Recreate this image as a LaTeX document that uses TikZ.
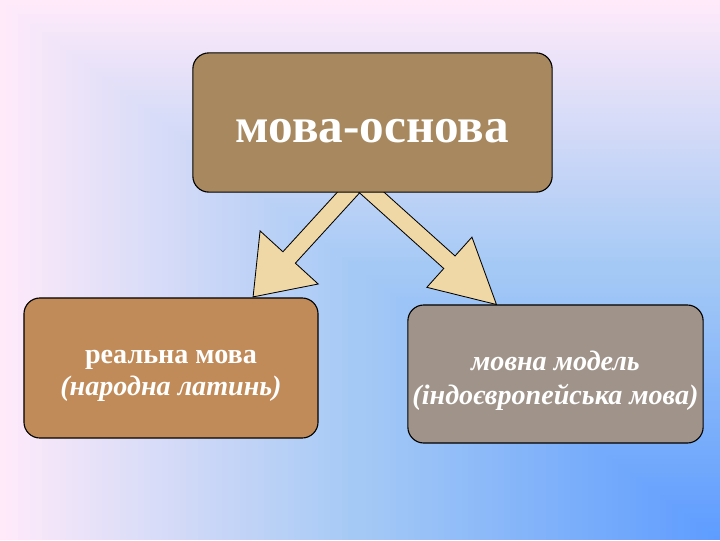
\documentclass[tikz,border=0pt]{standalone}
\usepackage{fontspec}
\setmainfont{Liberation Serif}
\usetikzlibrary{calc}

\definecolor{bgpink}{HTML}{FFEAFA}
\definecolor{bgmid}{HTML}{A4C9F5}
\definecolor{bgblue}{HTML}{5E9CFF}
\definecolor{paper}{HTML}{A8895F}
\definecolor{cork}{HTML}{C08B58}
\definecolor{granite}{HTML}{A0948A}
\definecolor{straw}{HTML}{F0D8A6}

% block arrow from #1 to #2, head length #3, half head width #4
\newcommand\blockarrow[4]{%
  \filldraw[arrowbody] let \p1=(#1), \p2=($(#2)-(#1)$),
      \n1={atan2(\y2,\x2)}, \n2={veclen(\x2,\y2)} in
    ([onaxis]0pt,-6pt) -- ([onaxis]\n2-#3,-6pt) -- ([onaxis]\n2-#3,-#4)
    -- ([onaxis]\n2,0pt) -- ([onaxis]\n2-#3,#4) -- ([onaxis]\n2-#3,6pt)
    -- ([onaxis]0pt,6pt) -- cycle;}

\begin{document}
\begin{tikzpicture}[x=0.025cm,y=-0.025cm,
    onaxis/.style={shift={(\p1)},rotate=\n1},
    arrowbody/.style={fill=straw,draw=black,line width=0.6pt,line join=miter},
    box/.style={draw=black,line width=0.8pt,rounded corners=0.4cm,inner sep=0pt},
    boxtext/.style={text=white,align=center,inner sep=0pt}]
  \useasboundingbox (0,0) rectangle (720,540);
  % background, lighter towards the upper left corner
  \foreach \t in {0,...,59}{
    \pgfmathsetmacro\pc{100*\t/59}
    \fill[bgmid!\pc!bgpink] (6*\t,4.5*\t) rectangle (720,540);
  }
  \foreach \t in {0,...,59}{
    \pgfmathsetmacro\pc{100*\t/59}
    \fill[bgblue!\pc!bgmid] (360+6*\t,270+4.5*\t) rectangle (720,540);
  }
  \coordinate (fork) at (359,181);
  \coordinate (tipreal) at (253,297);
  \coordinate (tipmodel) at (497,305);
  \blockarrow{fork}{tipreal}{38pt}{28pt}
  \blockarrow{fork}{tipmodel}{45pt}{24pt}
  \node[box,fill=paper,minimum width=8.98cm,minimum height=3.48cm] (root) at (372.5,122.5) {};
  \node[box,fill=cork,minimum width=7.35cm,minimum height=3.5cm] (real) at (171,368) {};
  \node[box,fill=granite,minimum width=7.38cm,minimum height=3.45cm] (model) at (555.5,374) {};
  \node[boxtext,font=\fontsize{35}{40}\selectfont\bfseries] (roottext)
    at ($(root.center)+(0,9)$) {мова-основа};
  \node[boxtext,font=\fontsize{20}{23}\selectfont\bfseries] (realtext)
    at ($(real.center)+(0,8)$) {реальна мова\\{\itshape (народна латинь)}};
  \node[boxtext,font=\fontsize{20}{24}\selectfont\bfseries\itshape] (modeltext)
    at ($(model.center)+(0,7)$) {мовна модель\\(індоєвропейська мова)};
\end{tikzpicture}
\end{document}
